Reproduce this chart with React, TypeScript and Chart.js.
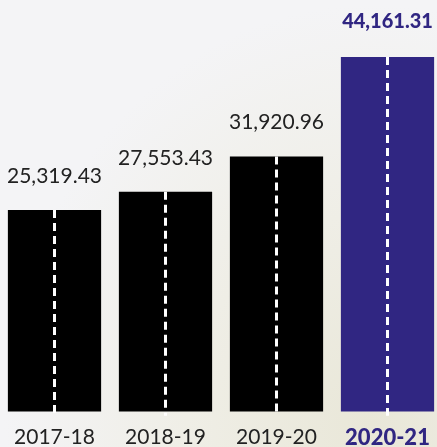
import React, { useEffect, useRef } from "react";
import { Chart, registerables } from "chart.js";

Chart.register(...registerables);

const categories = ["2017-18", "2018-19", "2019-20", "2020-21"];
const values = [25319.43, 27553.43, 31920.96, 44161.31];
const barColors = ["#000000", "#000000", "#000000", "#302682"];
const highlightIndex = 3;

const FONT = "Lato, 'Open Sans', 'DejaVu Sans', sans-serif";

const barDecor = {
  id: "barDecor",
  afterDatasetsDraw(chart: any) {
    const ctx = chart.ctx;
    const meta = chart.getDatasetMeta(0);
    meta.data.forEach((bar: any, i: number) => {
      const { x, y, base } = bar.getProps(["x", "y", "base"], true);
      ctx.save();
      ctx.strokeStyle = "#ffffff";
      ctx.lineWidth = 3;
      ctx.setLineDash([8, 5]);
      ctx.beginPath();
      ctx.moveTo(x, y);
      ctx.lineTo(x, base);
      ctx.stroke();
      ctx.restore();

      ctx.save();
      const hl = i === highlightIndex;
      ctx.font = `${hl ? 900 : 400} ${hl ? 20 : 21}px ${FONT}`;
      ctx.fillStyle = hl ? "#302682" : "#222222";
      ctx.textAlign = "center";
      ctx.textBaseline = "alphabetic";
      const txt = values[i].toLocaleString("en-US", {
        minimumFractionDigits: 2,
        maximumFractionDigits: 2,
      });
      ctx.fillText(txt, x, y - (hl ? 29 : 27));
      ctx.restore();
    });
  },
};

export default function App() {
  const ref = useRef<HTMLCanvasElement | null>(null);
  useEffect(() => {
    document.body.style.margin = "0";
    if (!ref.current) return;
    const chart = new Chart(ref.current, {
      type: "bar",
      data: {
        labels: categories,
        datasets: [
          {
            data: values,
            backgroundColor: barColors,
            borderWidth: 0,
            barPercentage: 0.84,
            categoryPercentage: 1,
          },
        ],
      },
      options: {
        animation: false,
        responsive: false,
        maintainAspectRatio: false,
        layout: { padding: { top: 12, bottom: -17, left: 0, right: 0 } },
        plugins: { legend: { display: false }, tooltip: { enabled: false } },
        scales: {
          x: {
            grid: { display: false, drawTicks: false },
            border: { display: false },
            ticks: {
              padding: 13,
              color: (c: any) => (c.index === highlightIndex ? "#302682" : "#222222"),
              font: (c: any) => ({
                family: FONT,
                size: c.index === highlightIndex ? 22 : 21,
                weight: c.index === highlightIndex ? 900 : 400,
                lineHeight: 1.2,
              }),
            },
          },
          y: { display: false, min: 500, max: 49700 },
        },
      },
      plugins: [barDecor],
    });
    return () => chart.destroy();
  }, []);
  return (
    <div
      style={{
        position: "relative",
        width: 437,
        height: 447,
        overflow: "hidden",
        background:
          "radial-gradient(ellipse at 85% 95%, #e9e7d8 0%, #efeee6 35%, #f4f4f6 70%)",
      }}
    >
      <canvas
        ref={ref}
        width={444}
        height={447}
        style={{ position: "absolute", left: -1, top: 0, width: 444, height: 447 }}
      />
    </div>
  );
}
